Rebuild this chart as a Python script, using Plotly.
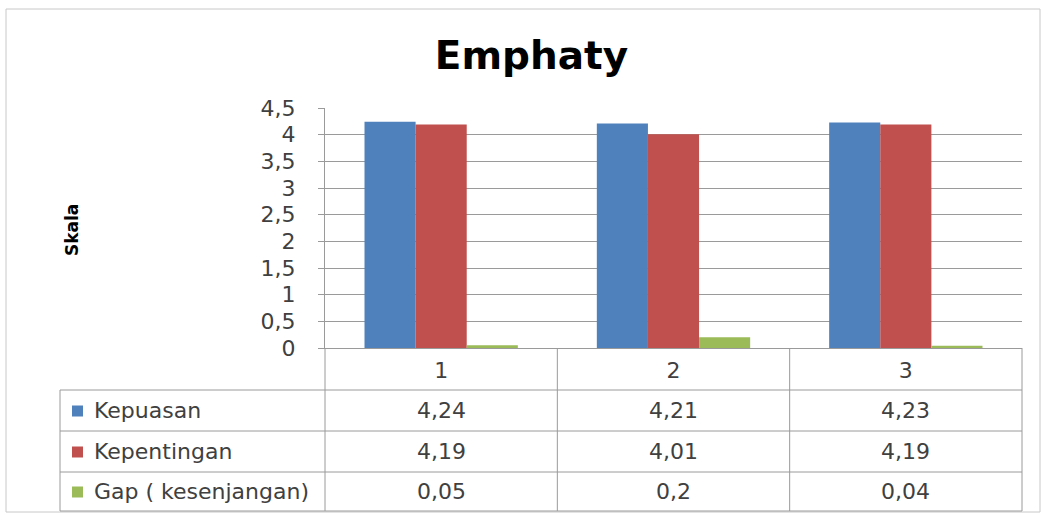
import plotly.graph_objects as go

# --- data ---
categories = ["1", "2", "3"]
series_names = ["Kepuasan", "Kepentingan", "Gap ( kesenjangan)"]
kepuasan = [4.24, 4.21, 4.23]
kepentingan = [4.19, 4.01, 4.19]
gap = [0.05, 0.2, 0.04]
series_values = [kepuasan, kepentingan, gap]
colors = ["#4F81BD", "#C0504D", "#9BBB59"]

W, H = 1045, 515
# plot area in pixels
PL, PR, PT, PB = 325, 1022, 108, 348
FONT = "DejaVu Sans"
TXT = "#404040"
LINE = "#9A9A9A"
FS = 22


def px(x):
    return (x - PL) / (PR - PL)


def py(y):
    return (PB - y) / (PB - PT)


fig = go.Figure()
for name, vals, col in zip(series_names, series_values, colors):
    fig.add_trace(go.Bar(x=categories, y=vals, name=name, marker_color=col,
                         marker_line_width=0, showlegend=False))

shapes = []
annotations = []

# data table below the plot: row boundaries and column boundaries
row_lines = [390, 431, 472, 511]
col_edges = [PL, PL + (PR - PL) / 3, PL + 2 * (PR - PL) / 3, PR]
table_left = 60
for yl in row_lines:
    shapes.append(dict(type="line", xref="paper", yref="paper",
                       x0=px(table_left), x1=px(PR),
                       y0=py(yl), y1=py(yl), line=dict(color=LINE, width=1)))
for xe in col_edges:
    shapes.append(dict(type="line", xref="paper", yref="paper",
                       x0=px(xe), x1=px(xe), y0=py(PB), y1=py(row_lines[-1]),
                       line=dict(color=LINE, width=1)))
shapes.append(dict(type="line", xref="paper", yref="paper",
                   x0=px(table_left), x1=px(table_left),
                   y0=py(row_lines[0]), y1=py(row_lines[-1]),
                   line=dict(color=LINE, width=1)))
# outer chart border
shapes.append(dict(type="rect", xref="paper", yref="paper",
                   x0=px(6), x1=px(1040), y0=py(9), y1=py(512),
                   line=dict(color="#C8C8C8", width=1), layer="below"))

# table rows: legend key, series name and values
for r, (name, vals, col) in enumerate(zip(series_names, series_values, colors)):
    yc = (row_lines[r] + row_lines[r + 1]) / 2
    shapes.append(dict(type="rect", xref="paper", yref="paper",
                       x0=px(72), x1=px(83), y0=py(yc - 5), y1=py(yc + 6),
                       fillcolor=col, line=dict(width=0)))
    annotations.append(dict(xref="paper", yref="paper", x=px(92), y=py(yc),
                            xanchor="left", yanchor="middle", showarrow=False,
                            text=name,
                            font=dict(family=FONT, size=FS, color=TXT)))
    for c, v in enumerate(vals):
        xc = (col_edges[c] + col_edges[c + 1]) / 2
        annotations.append(dict(xref="paper", yref="paper", x=px(xc), y=py(yc),
                                xanchor="center", yanchor="middle", showarrow=False,
                                text=str(v).replace(".", ","),
                                font=dict(family=FONT, size=FS, color=TXT)))

# y axis title
annotations.append(dict(xref="paper", yref="paper", x=px(72), y=py(230),
                        xanchor="center", yanchor="middle", showarrow=False,
                        text="<b>Skala</b>", textangle=-90,
                        font=dict(family=FONT, size=17, color="#000000")))

fig.update_layout(
    width=W, height=H,
    margin=dict(l=PL, r=W - PR, t=PT, b=H - PB),
    paper_bgcolor="white", plot_bgcolor="white",
    separators=",.",
    barmode="group", bargap=0.34, bargroupgap=0,
    title=dict(text="<b>Emphaty</b>", x=(435 + 628) / 2 / W, xanchor="center",
               y=1 - 55 / H, yanchor="middle",
               font=dict(family=FONT, size=39, color="#000000")),
    font=dict(family=FONT, color=TXT),
    shapes=shapes, annotations=annotations,
)
fig.update_yaxes(range=[0, 4.5], dtick=0.5, showgrid=True, gridcolor=LINE,
                 gridwidth=1, showline=True, linecolor=LINE, ticks="outside",
                 ticklen=6, tickcolor=LINE, tickfont=dict(size=FS, color=TXT),
                 zeroline=False, ticklabelstandoff=18)
fig.update_xaxes(showline=True, linecolor=LINE, showgrid=False, ticks="",
                 tickfont=dict(size=FS, color=TXT), ticklabelstandoff=3)

fig.write_html("out.html")
